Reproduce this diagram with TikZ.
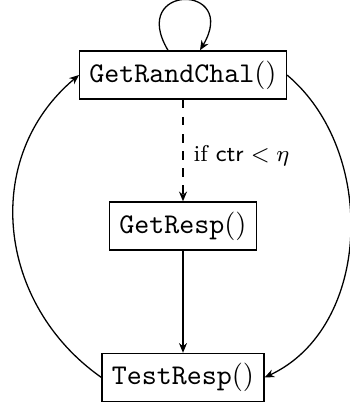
\documentclass[tikz,border=0pt]{standalone}
\usetikzlibrary{arrows.meta}
\begin{document}
\begin{tikzpicture}[x=0.35pt,y=0.35pt,
  box/.style={draw, font=\ttfamily, inner sep=3.4pt, line width=0.5pt},
  lbl/.style={font=\footnotesize, inner sep=3.5pt},
  arr/.style={-{Stealth[length=3.4pt,width=2.8pt]}, line width=0.45pt}]
\useasboundingbox (0,0) rectangle (350,-407);
\node[box] (a) at (183,-75) {GetRandChal\rmfamily$()$};
\node[box] (b) at (183,-226) {GetResp\rmfamily$()$};
\node[box] (c) at (183,-377.5) {TestResp\rmfamily$()$};
\draw[arr, dashed] (a) -- node[lbl, right, pos=0.55] {if $\mathsf{ctr} < \eta$} (b);
\draw[arr] (b) -- (c);
\draw[arr] ([xshift=-5.25pt]a.north) .. controls +(-40,67) and +(40,67) .. ([xshift=5.95pt]a.north);
\draw[arr] (c.west) to[out=145, in=220, looseness=1.08] (a.west);
\draw[arr] (a.east) to[out=-40, in=25] (c.east);
\end{tikzpicture}
\end{document}
